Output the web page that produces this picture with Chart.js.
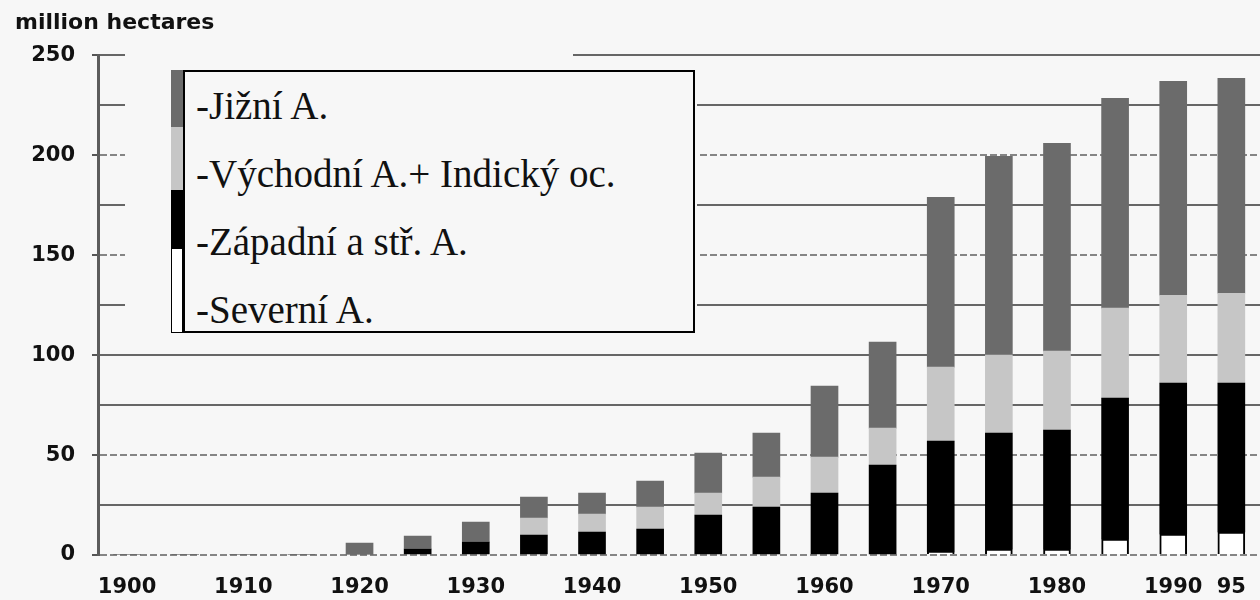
<!DOCTYPE html>
<html lang="cs">
<head>
<meta charset="UTF-8">
<title>million hectares</title>
<script src="https://cdn.jsdelivr.net/npm/chart.js@4.4.1/dist/chart.umd.min.js"></script>
<style>
  html, body { margin: 0; padding: 0; background: #f7f7f7; overflow: hidden; }
  #wrap { position: relative; width: 1260px; height: 600px; overflow: hidden; }
  #legend { position: absolute; left: 171px; top: 70px; height: 263px; display: flex; }
  #strip { width: 12px; display: flex; flex-direction: column; }
  #strip div { box-sizing: border-box; }
  #box { width: 512px; box-sizing: border-box; border: 2px solid #000; background: #f7f7f7;
         font-family: "Liberation Serif", serif; font-size: 39px; color: #111; padding-left: 11px; }
  #box div { line-height: 68px; height: 68px; white-space: nowrap; }
</style>
</head>
<body>
<div id="wrap">
  <canvas id="chart" width="1266" height="600"></canvas>
  <div id="legend"><div id="strip"></div><div id="box"></div></div>
</div>
<script>
// categories (every 5 years) and the axis labels shown under them
const years = ['1900', '1905', '1910', '1915', '1920', '1925', '1930', '1935', '1940', '1945',
               '1950', '1955', '1960', '1965', '1970', '1975', '1980', '1985', '1990', '1995'];
const tickLabels = ['1900', '', '1910', '', '1920', '', '1930', '', '1940', '',
                    '1950', '', '1960', '', '1970', '', '1980', '', '1990', '95'];

// million hectares, bottom of the stack first
const severni  = [0, 0, 0, 0, 0, 0, 0, 0, 0, 0, 0, 0, 0, 0, 1.5, 3, 3, 8, 10.5, 11.5];
const zapadni  = [0, 0, 0, 0, 0, 3, 6.5, 10, 11.5, 13, 20, 24, 31, 45, 55.5, 58, 59.5, 70.5, 75.5, 74.5];
const vychodni = [0, 0, 0, 0, 0, 0, 0, 8.5, 9, 11, 11, 15, 18, 18.5, 37, 39, 39.5, 45, 44, 45];
const jizni    = [0, 0, 0, 0, 6, 6.5, 10, 10.5, 10.5, 13, 20, 22, 35.5, 43, 85, 99.5, 104, 105, 107, 107.5];

const yTicks = [0, 50, 100, 150, 200, 250];
const dashedLines = [0, 50, 150, 200];

const bg = '#f7f7f7';

// gridlines behind the legend are hidden in the original
const coverPlugin = {
    id: 'cover',
    beforeDatasetsDraw(chart) {
        const c = chart.ctx;
        c.save();
        c.fillStyle = bg;
        c.fillRect(125, 45, 448, 20);
        c.fillRect(125, 62, 572, 280);
        c.restore();
    }
};

const ctx = document.getElementById('chart').getContext('2d');
const myChart = new Chart(ctx, {
    type: 'bar',
    data: {
        labels: years,
        datasets: [{
            label: '-Severní A.',
            data: severni,
            backgroundColor: '#ffffff',
            borderColor: '#000000',
            borderWidth: 2
        }, {
            label: '-Západní a stř. A.',
            data: zapadni,
            backgroundColor: '#000000',
            borderWidth: 0
        }, {
            label: '-Východní A.+ Indický oc.',
            data: vychodni,
            backgroundColor: '#c6c6c6',
            borderWidth: 0
        }, {
            label: '-Jižní A.',
            data: jizni,
            backgroundColor: '#6b6b6b',
            borderWidth: 0
        }]
    },
    options: {
        responsive: false,
        animation: false,
        devicePixelRatio: 1,
        barThickness: 27,
        layout: { padding: { left: 15, right: 2, top: 0, bottom: 0 } },
        plugins: {
            legend: { display: false },
            tooltip: { enabled: false },
            title: {
                display: true,
                text: 'million hectares',
                align: 'start',
                color: '#111',
                font: { family: 'DejaVu Sans', size: 22, weight: 'bold' },
                padding: { top: 10, bottom: 19 }
            }
        },
        scales: {
            x: {
                stacked: true,
                grid: { display: false, drawTicks: false },
                border: { display: false },
                afterFit(scale) { scale.height = 45; },
                ticks: {
                    autoSkip: false,
                    maxRotation: 0,
                    padding: 20,
                    color: '#111',
                    font: { family: 'DejaVu Sans', size: 21, weight: 'bold' },
                    callback(value, index) {
                        return tickLabels[index];
                    }
                }
            },
            y: {
                stacked: true,
                min: 0,
                max: 250,
                afterFit(scale) { scale.width = 83; },
                grid: {
                    lineWidth: 2,
                    tickLength: 6,
                    color: c => dashedLines.includes(c.tick.value) ? '#858585' : '#666666',
                    tickColor: c => yTicks.includes(c.tick.value) ? '#555555' : 'rgba(0,0,0,0)'
                },
                border: {
                    display: true,
                    color: '#5c5c5c',
                    width: 3,
                    dash: c => (c.tick && dashedLines.includes(c.tick.value)) ? [7, 3] : []
                },
                ticks: {
                    stepSize: 25,
                    padding: 17,
                    color: '#111',
                    font: { family: 'DejaVu Sans', size: 21, weight: 'bold' },
                    callback(value) {
                        return yTicks.includes(value) ? value : '';
                    }
                }
            }
        }
    },
    plugins: [coverPlugin]
});

// legend: colour strip on the left, labels top to bottom
const strip = document.getElementById('strip'),
    box = document.getElementById('box'),
    stripHeights = [57, 63, 58, 85];
myChart.data.datasets.slice().reverse().forEach((ds, i) => {
    const seg = document.createElement('div');
    seg.style.height = stripHeights[i] + 'px';
    seg.style.background = ds.backgroundColor;
    if (ds.borderWidth) seg.style.border = '1.5px solid ' + ds.borderColor;
    strip.appendChild(seg);
    const row = document.createElement('div');
    row.textContent = ds.label;
    box.appendChild(row);
});
</script>
</body>
</html>
